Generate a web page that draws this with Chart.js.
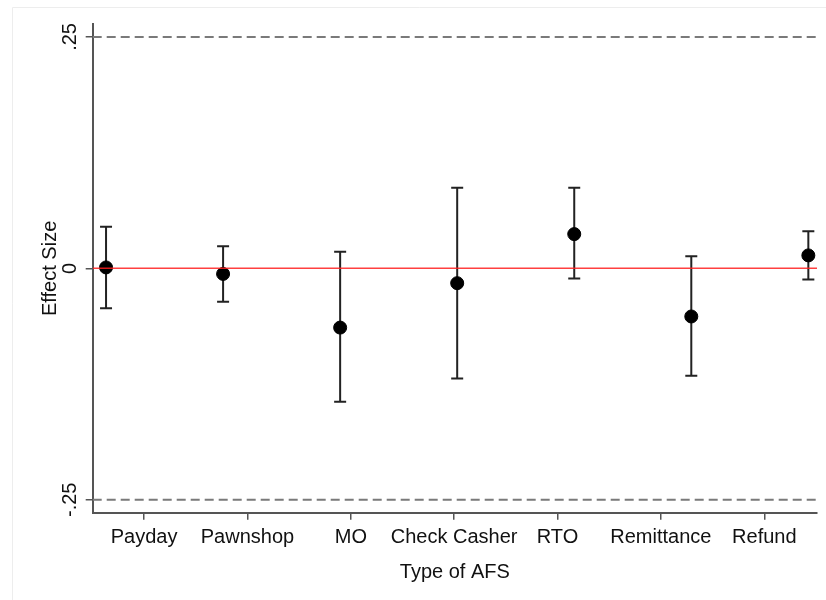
<!DOCTYPE html>
<html>
<head>
<meta charset="utf-8">
<script src="https://cdn.jsdelivr.net/npm/chart.js@4"></script>
<style>
  html, body { margin: 0; padding: 0; background: #fff; }
  #wrap { width: 826px; height: 600px; position: relative; }
</style>
</head>
<body>
<div id="wrap"><canvas id="afsChart" width="826" height="600"></canvas></div>
<script>
// data
var categories = ['Payday', 'Pawnshop', 'MO', 'Check Casher', 'RTO', 'Remittance', 'Refund'];
var catPos = [1, 2, 3, 4, 5, 6, 7];
var effect = [0.001, -0.006, -0.064, -0.016, 0.037, -0.052, 0.014];
var ciLow = [-0.043, -0.036, -0.144, -0.119, -0.011, -0.116, -0.012];
var ciHigh = [0.045, 0.024, 0.018, 0.087, 0.087, 0.013, 0.040];
// the category labels sit on their own spacing, not under the markers
var labelPos = [1.325, 2.208, 3.092, 3.974, 4.857, 5.74, 6.624];
var yTicks = [-0.25, 0, 0.25];
var yTickLabels = ['-.25', '0', '.25'];
var bandLines = [-0.25, 0.25];

var xMin = 0.886, xMax = 7.074;
var yMin = -0.264, yMax = 0.264;
var FONT = "'Liberation Sans', Arial, Helvetica, sans-serif";

// vertical CI whiskers, drawn just before the markers
var errorBars = {
  id: 'errorBars',
  beforeDatasetDraw: function(chart, args) {
    if (args.index !== 3) return;
    var ctx = chart.ctx, x = chart.scales.x, y = chart.scales.y;
    ctx.save();
    ctx.strokeStyle = '#222';
    ctx.lineWidth = 2;
    for (var i = 0; i < catPos.length; i++) {
      var px = x.getPixelForValue(catPos[i]);
      var top = y.getPixelForValue(ciHigh[i]);
      var bot = y.getPixelForValue(ciLow[i]);
      ctx.beginPath();
      ctx.moveTo(px, top); ctx.lineTo(px, bot);
      ctx.moveTo(px - 6, top); ctx.lineTo(px + 6, top);
      ctx.moveTo(px - 6, bot); ctx.lineTo(px + 6, bot);
      ctx.stroke();
    }
    ctx.restore();
  }
};

// rotated y labels + frame
var yText = {
  id: 'yText',
  beforeDraw: function(chart) {
    var ctx = chart.ctx;
    ctx.save();
    ctx.strokeStyle = '#ededed';
    ctx.lineWidth = 1;
    ctx.beginPath();
    ctx.moveTo(12.5, 600); ctx.lineTo(12.5, 7.5); ctx.lineTo(826, 7.5);
    ctx.stroke();
    ctx.restore();
  },
  afterDraw: function(chart) {
    var ctx = chart.ctx, y = chart.scales.y;
    ctx.save();
    ctx.fillStyle = '#111';
    ctx.font = '20px ' + FONT;
    ctx.textAlign = 'center';
    ctx.textBaseline = 'alphabetic';
    for (var i = 0; i < yTicks.length; i++) {
      ctx.save();
      ctx.translate(76, y.getPixelForValue(yTicks[i]));
      ctx.rotate(-Math.PI / 2);
      ctx.fillText(yTickLabels[i], 0, 0);
      ctx.restore();
    }
    ctx.translate(56, (chart.chartArea.top + chart.chartArea.bottom) / 2);
    ctx.rotate(-Math.PI / 2);
    ctx.fillText('Effect Size', 0, 0);
    ctx.restore();
  }
};

function hline(v, color, dash, width) {
  return {
    type: 'line',
    data: [{x: xMin, y: v}, {x: xMax, y: v}],
    borderColor: color,
    borderWidth: width,
    borderDash: dash,
    pointRadius: 0,
    fill: false
  };
}

var ctx = document.getElementById('afsChart').getContext('2d');
var afsChart = new Chart(ctx, {
  type: 'scatter',
  data: {
    datasets: [
      hline(bandLines[0], '#7a7a7a', [9, 5], 2),
      hline(bandLines[1], '#7a7a7a', [9, 5], 2),
      hline(0, 'rgba(255,30,30,0.85)', [], 1.5),
      {
        label: 'Effect',
        data: catPos.map(function(c, i) { return {x: c, y: effect[i]}; }),
        backgroundColor: '#000',
        borderColor: '#000',
        pointRadius: 6.5,
        pointHoverRadius: 6.5
      }
    ]
  },
  options: {
    responsive: false,
    animation: false,
    events: [],
    layout: { padding: { top: 24, right: 9, left: 0, bottom: 0 } },
    plugins: {
      legend: { display: false },
      tooltip: { enabled: false }
    },
    scales: {
      x: {
        type: 'linear',
        min: xMin,
        max: xMax,
        afterBuildTicks: function(scale) {
          scale.ticks = labelPos.map(function(v) { return {value: v}; });
        },
        afterFit: function(scale) { scale.height = 87.3; },
        ticks: {
          autoSkip: false,
          maxRotation: 0,
          padding: 6,
          color: '#111',
          font: { family: FONT, size: 20 },
          callback: function(value, index) { return categories[index]; }
        },
        grid: { drawOnChartArea: false, drawTicks: true, tickLength: 7, color: '#555', lineWidth: 1.5 },
        border: { display: true, color: '#555', width: 2 },
        title: {
          display: true,
          text: 'Type of AFS',
          color: '#111',
          font: { family: FONT, size: 20 },
          padding: { top: 4, bottom: 16 }
        }
      },
      y: {
        min: yMin,
        max: yMax,
        afterBuildTicks: function(scale) {
          scale.ticks = yTicks.map(function(v) { return {value: v}; });
        },
        afterFit: function(scale) { scale.width = 92.7; },
        ticks: { display: false },
        grid: { drawOnChartArea: false, drawTicks: true, tickLength: 7, color: '#555', lineWidth: 1.5 },
        border: { display: true, color: '#555', width: 2 }
      }
    }
  },
  plugins: [errorBars, yText]
});
</script>
</body>
</html>
